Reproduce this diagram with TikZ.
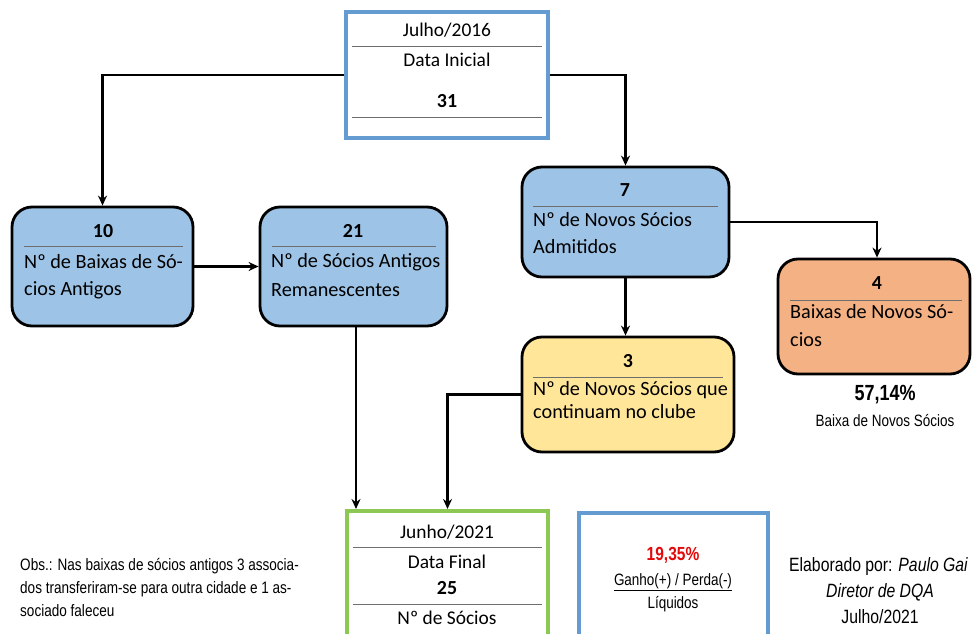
\documentclass[tikz,border=0pt]{standalone}
\usepackage{fontspec}
\setmainfont{Carlito}
\newfontfamily\narrow[FakeStretch=0.82]{Liberation Sans}
\usetikzlibrary{arrows.meta}
\definecolor{boxblue}{RGB}{157,195,230}
\definecolor{boxorange}{RGB}{244,177,131}
\definecolor{boxyellow}{RGB}{255,230,153}
\definecolor{edgeblue}{RGB}{100,155,208}
\definecolor{edgegreen}{RGB}{142,200,84}
\definecolor{sepgray}{RGB}{110,110,110}
\definecolor{pctred}{RGB}{228,10,10}
\tikzset{
  rbox/.style={draw=black, line width=2.8bp, rounded corners=20bp, inner sep=0pt},
  sqbox/.style={line width=3.5bp, fill=white, inner sep=0pt},
  sep/.style={draw=sepgray, line width=1bp},
  arr/.style={draw=black, line width=2.6bp, -{Stealth[length=10bp,width=9bp]}},
  cal/.style={font=\fontsize{19.5}{23}\selectfont, inner sep=0pt},
  calb/.style={font=\fontsize{20}{23}\selectfont\bfseries, inner sep=0pt},
  calw/.style={font=\fontsize{20.3}{24}\selectfont, inner sep=0pt, anchor=west},
  nar/.style={font=\narrow\fontsize{16.5}{20}\selectfont, inner sep=0pt},
  obs/.style={font=\narrow\fontsize{16.6}{20}\selectfont, inner sep=0pt, anchor=west},
  sig/.style={font=\narrow\fontsize{19.3}{23}\selectfont, inner sep=0pt},
}
\begin{document}
\begin{tikzpicture}[x=1bp,y=-1bp]
\clip (0,0) rectangle (973,634);
\fill[white] (0,0) rectangle (973,634);
% boxes
\node[sqbox, draw=edgeblue, minimum width=202bp, minimum height=126bp] (top) at (447,75) {};
\node[rbox, fill=boxblue, minimum width=181bp, minimum height=119bp] (b10) at (102.5,266.5) {};
\node[rbox, fill=boxblue, minimum width=187bp, minimum height=119bp] (b21) at (353.5,266.5) {};
\node[rbox, fill=boxblue, minimum width=207bp, minimum height=110bp] (b7) at (625.5,222) {};
\node[rbox, fill=boxorange, minimum width=192bp, minimum height=115bp] (b4) at (874,316.5) {};
\node[rbox, fill=boxyellow, minimum width=212bp, minimum height=115bp] (b3) at (628,394.5) {};
\node[sqbox, draw=edgegreen, line width=4bp, minimum width=201bp, minimum height=160bp] (fin) at (447.5,591) {};
\node[sqbox, draw=edgeblue, minimum width=189bp, minimum height=160bp] (res) at (673.5,593) {};
% top box texts
\node[cal] (t1) at (447,30) {Julho/2016};
\draw[sep] (352,47) -- (542,47);
\node[cal] (t2) at (447,60) {Data Inicial};
\node[calb] (t3) at (447,101) {31};
\draw[sep] (352,118) -- (542,118);
% b10
\node[calb] (n10) at (103,231) {10};
\draw[sep] (24,247) -- (183,247);
\node[calw] (l10a) at (24,262) {Nº de Baixas de Só-};
\node[calw] (l10b) at (24,290) {cios Antigos};
% b21
\node[calb] (n21) at (353,231) {21};
\draw[sep] (272,247) -- (436,247);
\node[calw] (l21a) at (271,262) {Nº de Sócios Antigos};
\node[calw] (l21b) at (271,290) {Remanescentes};
% b7
\node[calb] (n7) at (625,190) {7};
\draw[sep] (533,207) -- (718,207);
\node[calw] (l7a) at (533,220) {Nº de Novos Sócios};
\node[calw] (l7b) at (533,247) {Admitidos};
% b4
\node[calb] (n4) at (877,283) {4};
\draw[sep] (790,300) -- (962,300);
\node[calw] (l4a) at (790,312) {Baixas de Novos Só-};
\node[calw] (l4b) at (790,340) {cios};
% b3
\node[calb] (n3) at (628,361) {3};
\draw[sep] (533,377) -- (723,377);
\node[calw] (l3a) at (533,390) {Nº de Novos Sócios que};
\node[calw] (l3b) at (533,412) {continuam no clube};
% percentage under b4
\node[nar, font=\narrow\fontsize{22}{26}\selectfont\bfseries] (p4) at (885,395) {57,14\%};
\node[nar] (p4l) at (885,421) {Baixa de Novos Sócios};
% final box
\node[cal] (f1) at (447,532) {Junho/2021};
\draw[sep] (353,547) -- (542,547);
\node[cal] (f2) at (447,562) {Data Final};
\node[calb] (f3) at (447,588) {25};
\draw[sep] (353,604) -- (542,604);
\node[cal] (f4) at (447,618) {Nº de Sócios};
% result box
\node[nar, font=\narrow\fontsize{19}{23}\selectfont\bfseries, text=pctred] (r1) at (673,555) {19,35\%};
\node[nar] (r2) at (673,582) {\underline{Ganho(+) / Perda(-)}};
\node[nar] (r3) at (673,604) {Líquidos};
% obs
\node[obs] (o1) at (20,566) {Obs.: Nas baixas de sócios antigos 3 associa-};
\node[obs] (o2) at (20,589) {dos transferiram-se para outra cidade e 1 as-};
\node[obs] (o3) at (20,611) {sociado faleceu};
% signature
\node[sig, anchor=west] (s1) at (789,567) {Elaborado por: \textit{Paulo Gai}};
\node[sig, font=\narrow\fontsize{19.3}{23}\selectfont\itshape] (s2) at (880,592) {Diretor de DQA};
\node[sig] (s3) at (880,617) {Julho/2021};
% connectors
\draw[arr] (top.west) -| (b10.north);
\draw[arr] (top.east) -| (b7.north);
\draw[arr] (b10.east) -- (b21.west);
\draw[arr] ([xshift=2.5bp]b21.south) -- ([xshift=2.5bp]b21.south |- fin.north);
\draw[arr] (b7.east) -| ([xshift=3bp]b4.north);
\draw[arr] (b7.south) -- (b7.south |- b3.north);
\draw[arr] (b3.west) -| (fin.north);
\end{tikzpicture}
\end{document}
